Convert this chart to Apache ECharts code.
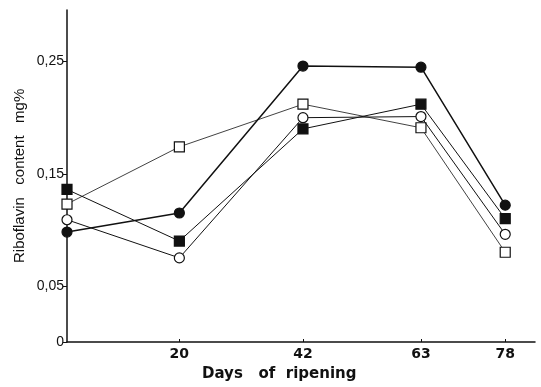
<!DOCTYPE html>
<html lang="en">
<head>
    <meta charset="UTF-8">
    <title>Riboflavin content</title>
    <style>
        html, body { margin: 0; padding: 0; background: #fff; }
    </style>
</head>
<body>
<div id="main" style="width: 541px;height:387px;"></div>
<script src="https://cdn.jsdelivr.net/npm/echarts@6/dist/echarts.min.js"></script>
<script>
    // days of ripening (x) and the tick labels shown on each axis
    var days = [0, 20, 42, 63, 78];
    var xTicks = [20, 42, 63, 78];
    var yTicks = [0, 0.05, 0.15, 0.25];

    // riboflavin content, mg%, one array per marker type
    var filledCircle = [0.098, 0.115, 0.246, 0.245, 0.122];
    var filledSquare = [0.136, 0.090, 0.190, 0.212, 0.110];
    var openCircle = [0.109, 0.075, 0.200, 0.201, 0.096];
    var openSquare = [0.123, 0.174, 0.212, 0.191, 0.080];

    function pairs(vals) {
        var res = [];
        for (var i = 0; i < days.length; i++) {
            res.push([days[i], vals[i]]);
        }
        return res;
    }

    function makeSeries(name, vals, symbol, filled, lineWidth, z) {
        return {
            name: name,
            type: 'line',
            data: pairs(vals),
            symbol: symbol,
            symbolSize: symbol === 'rect' ? 10 : 10,
            showSymbol: true,
            z: z,
            lineStyle: { color: '#111', width: lineWidth },
            itemStyle: {
                color: filled ? '#111' : '#fff',
                borderColor: '#111',
                borderWidth: 1.2,
                opacity: 1
            },
            emphasis: { disabled: true }
        };
    }

    var myChart = echarts.init(document.getElementById('main'));
    var option = {
        backgroundColor: '#fff',
        animation: false,
        grid: { left: 67, top: 10, right: 6, bottom: 45 },
        xAxis: {
            type: 'value',
            min: 0,
            max: 83.3,
            splitLine: { show: false },
            axisLine: { lineStyle: { color: '#111', width: 1.5 } },
            axisTick: {
                inside: true,
                length: 3,
                customValues: xTicks,
                lineStyle: { color: '#111' }
            },
            axisLabel: {
                customValues: xTicks,
                margin: 5,
                color: '#111',
                fontSize: 14,
                fontWeight: 'bold',
                fontFamily: 'DejaVu Sans'
            }
        },
        yAxis: {
            type: 'value',
            min: 0,
            max: 0.296,
            splitLine: { show: false },
            axisLine: { show: true, lineStyle: { color: '#111', width: 1.5 } },
            axisTick: {
                show: true,
                length: 4,
                customValues: yTicks,
                lineStyle: { color: '#111' }
            },
            axisLabel: {
                customValues: yTicks,
                margin: 3,
                color: '#111',
                fontSize: 14,
                fontFamily: 'Liberation Sans',
                formatter: function (v) {
                    return String(v).replace('.', ',');
                }
            }
        },
        graphic: [
            {
                type: 'text',
                left: 202,
                top: 367,
                style: {
                    text: 'Days   of  ripening',
                    fill: '#111',
                    font: 'bold 15px "DejaVu Sans"'
                }
            },
            {
                type: 'text',
                x: 12,
                y: 263,
                rotation: Math.PI / 2,
                style: {
                    text: 'Riboflavin   content   mg%',
                    fill: '#111',
                    font: '15px "Liberation Sans"'
                }
            }
        ],
        series: [
            makeSeries('open square', openSquare, 'rect', false, 0.8, 2),
            makeSeries('open circle', openCircle, 'circle', false, 1, 3),
            makeSeries('filled square', filledSquare, 'rect', true, 1, 4),
            makeSeries('filled circle', filledCircle, 'circle', true, 1.5, 5)
        ]
    };
    myChart.setOption(option);
</script>
</body>
</html>
